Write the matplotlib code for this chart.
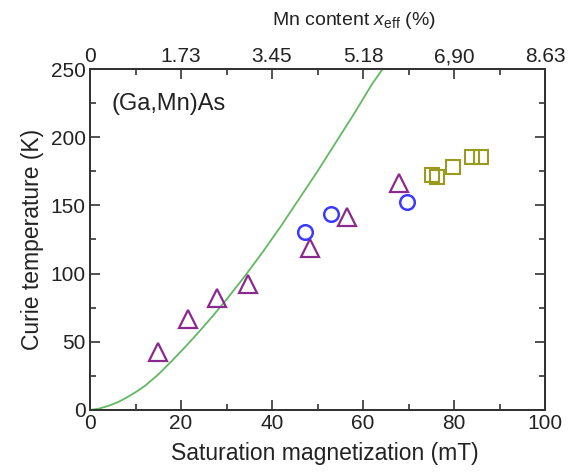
#!/usr/bin/env python3
"""(Ga,Mn)As Curie temperature vs saturation magnetization."""

import matplotlib
matplotlib.use("Agg")
import matplotlib.pyplot as plt
from matplotlib.ticker import MultipleLocator

plt.rcParams["font.family"] = ["Liberation Sans", "DejaVu Sans"]
plt.rcParams["mathtext.fontset"] = "custom"
plt.rcParams["mathtext.it"] = "Liberation Sans:italic"
plt.rcParams["mathtext.rm"] = "Liberation Sans"

# Data
tri_ms = [14.9, 21.6, 27.9, 34.8, 48.4, 56.4, 67.9]
tri_tc = [42.7, 66.6, 82.1, 92.4, 118.5, 141.7, 166.4]

circ_ms = [47.3, 52.9, 69.6]
circ_tc = [130.5, 143.7, 152.7]

sq_ms = [75.1, 76.2, 79.7, 84.0, 85.9]
sq_tc = [172.3, 170.8, 178.3, 185.2, 185.2]

curve_ms = [0, 2, 4, 6, 8, 10, 12, 15, 18, 21, 24, 27, 30, 34, 38, 42, 46,
            50, 54, 58, 62, 66]
curve_tc = [0, 1.0, 3.0, 5.5, 9.0, 13.0, 17.5, 26, 36, 46.5, 57.5, 69, 81,
            98, 116, 135, 155, 175, 196, 217, 239, 258]

top_ticks = [0, 20, 40, 60, 80, 100]
top_labels = ["0", "1.73", "3.45", "5.18", "6,90", "8.63"]

AX_COL = "#333333"
TXT_COL = "#222222"

fig = plt.figure(figsize=(5.74, 4.72), dpi=100)
ax = fig.add_axes([0.1568, 0.1314, 0.7927, 0.7224])

ax.plot(curve_ms, curve_tc, color="#62b862", lw=1.3, zorder=2)
ax.plot(tri_ms, tri_tc, ls="none", marker="^", ms=12.5, mfc="none",
        mec="#8a2a8e", mew=1.6, zorder=3)
ax.plot(circ_ms, circ_tc, ls="none", marker="o", ms=10.5, mfc="none",
        mec="#3a3aff", mew=1.8, zorder=3)
ax.plot(sq_ms, sq_tc, ls="none", marker="s", ms=10, mfc="none",
        mec="#9a9a1e", mew=1.5, zorder=3)

ax.set_xlim(0, 100)
ax.set_ylim(0, 250)
ax.xaxis.set_major_locator(MultipleLocator(20))
ax.xaxis.set_minor_locator(MultipleLocator(10))
ax.yaxis.set_major_locator(MultipleLocator(50))
ax.yaxis.set_minor_locator(MultipleLocator(25))

ax.set_xlabel("Saturation magnetization (mT)", fontsize=16.5, color=TXT_COL)
ax.xaxis.set_label_coords(0.517, -0.095)
ax.set_ylabel("Curie temperature (K)", fontsize=16.5, color=TXT_COL,
              labelpad=5)
ax.text(0.048, 0.897, "(Ga,Mn)As", transform=ax.transAxes, fontsize=17,
        color=TXT_COL, ha="left", va="center")

ax2 = ax.twiny()
ax2.set_xlim(0, 100)
ax2.set_xticks(top_ticks)
ax2.set_xticklabels(top_labels)
ax2.xaxis.set_minor_locator(MultipleLocator(10))
ax2.set_xlabel(r"Mn content $x_{\rm eff}$ (%)", fontsize=14, color=TXT_COL)
ax2.xaxis.set_label_coords(0.58, 1.13)

for a in (ax, ax2):
    for sp in a.spines.values():
        sp.set_color(AX_COL)
        sp.set_linewidth(1.4)
    a.tick_params(which="both", direction="in", colors=AX_COL,
                  labelcolor=TXT_COL, labelsize=15, width=1.2)
    a.tick_params(which="major", length=7)
    a.tick_params(which="minor", length=4)
ax.tick_params(axis="y", which="both", right=True)
ax.tick_params(axis="x", pad=3)
ax.tick_params(axis="y", pad=3)
ax2.tick_params(axis="x", pad=2)

fig.savefig("out.png", dpi=100)
